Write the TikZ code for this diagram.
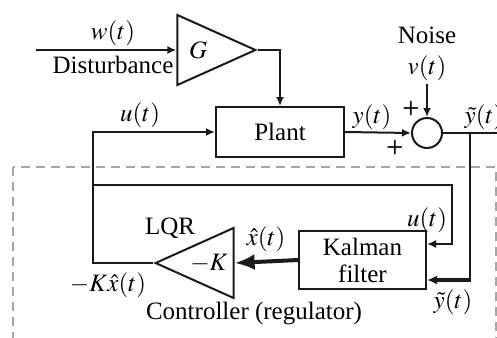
\documentclass[tikz,border=0pt]{standalone}
\usepackage{mathptmx}
\usepackage{fontspec}
\setmainfont{Liberation Serif}
\usepackage{tikz}
\usetikzlibrary{positioning,arrows.meta,calc,shapes.geometric}
\definecolor{cLine}{HTML}{1A1A1A}
\definecolor{cBox}{HTML}{A6A6A6}
\tikzset{
  base/.style   ={draw=cLine, line width=1pt, align=center, inner sep=0pt,
                  font=\fontsize{12.5}{12.5}\selectfont, text=black},
  block/.style  ={base, rectangle},
  gain/.style   ={base, isosceles triangle, isosceles triangle stretches,
                  minimum width=35pt, minimum height=39pt},
  summer/.style ={base, circle, minimum size=15pt},
  lbl/.style    ={font=\fontsize{12.5}{12.5}\selectfont, inner sep=1pt},
  sgn/.style    ={font=\sffamily\bfseries, inner sep=0pt},
  sig/.style    ={-{Latex[length=4.5pt,width=4pt]}, line width=1pt, draw=cLine},
  line/.style   ={line width=1pt, draw=cLine},
  est/.style    ={-{Latex[length=10pt,width=8pt]}, line width=2pt, draw=cLine},
  meas/.style   ={-{Latex[length=5pt,width=4.5pt]}, line width=1.6pt, draw=cLine},
  ctrlbox/.style={draw=cBox, line width=1pt, dash pattern=on 4.5pt off 3pt},
}

\begin{document}
\begin{tikzpicture}[x=0.5pt, y=-0.5pt]
  \useasboundingbox (0,0) rectangle (497,337);

  % ---- controller boundary (runs past the lower edge) ----
  \draw[ctrlbox] (13,167) rectangle (496,360);

  % ---- plant side ----
  \node[gain, anchor=apex] (G) at (258,50) {$G$};
  \node[block, minimum width=64pt, minimum height=25pt] (plant) at (280,132) {Plant};
  \node[summer] (sum) at (427,133) {};
  \coordinate (win) at (36,50);
  \coordinate (yout) at (500,133);
  \coordinate (tap) at (470,133);

  % ---- controller side ----
  \node[block, minimum width=63.5pt, minimum height=29pt] (kal) at (362.5,260)
    {Kalman\\[1pt]filter};
  \node[gain, shape border rotate=180, anchor=apex] (lqr) at (153,263) {$-K$};
  \coordinate (ucorner) at (93,263);
  \coordinate (ubranch) at (93,185);
  \coordinate (uright) at (452,185);
  \coordinate (kin1) at ([yshift=8pt]kal.east);
  \coordinate (kin2) at ([yshift=-10pt]kal.east);

  % ---- labels ----
  \node[lbl] (wlab) at (113,33) {$w(t)$};
  \node[lbl] (dist) at (113,65) {Disturbance};
  \node[lbl] (ulab) at (140,115) {$u(t)$};
  \node[lbl] (ylab) at (372,117) {$y(t)$};
  \node[lbl] (noise) at (427,35) {Noise};
  \node[lbl, below=4pt of noise] (vlab) {$v(t)$};
  \node[sgn] (p1) at (411,108) {+};
  \node[sgn] (p2) at (395,147) {+};
  \node[lbl] (ytlab) at (484,117) {$\tilde{y}(t)$};
  \node[lbl] (lqrlab) at (170,228) {LQR};
  \node[lbl] (kxlab) at (108,285) {$-K\hat{x}(t)$};
  \node[lbl] (xhlab) at (266,239) {$\hat{x}(t)$};
  \node[lbl] (uklab) at (427,220) {$u(t)$};
  \node[lbl] (ykl) at (453,302) {$\tilde{y}(t)$};
  \node[lbl] (ctrl) at (254,314) {Controller (regulator)};

  % ---- connections ----
  \draw[sig] (win) -- (G.lower side);
  \draw[sig] (G.apex) -| (plant.north);
  \draw[sig] (plant.east) -- (sum.west);
  \draw[sig] (vlab.south) -- (sum.north);
  \draw[line] (sum.east) -- (yout);

  % state estimate into the gain
  \draw[est] (kal.west) -- (lqr.lower side);
  % control signal back to the plant
  \draw[sig] (lqr.apex) -- (ucorner) -- (ucorner |- plant.west) -- (plant.west);
  \draw[sig] (ubranch) -- (uright) -- (uright |- kin1) -- (kin1);
  % measured output into the filter
  \draw[line] (tap) -- (tap |- kin2);
  \draw[meas] ([xshift=0.5pt]tap |- kin2) -- (kin2);

\end{tikzpicture}
\end{document}
